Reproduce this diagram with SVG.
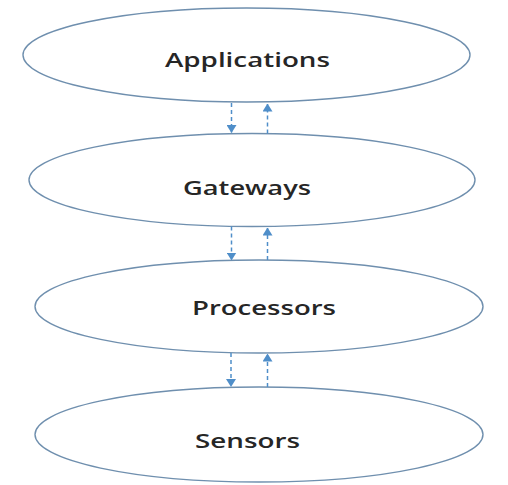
<svg xmlns="http://www.w3.org/2000/svg" width="508" height="485" viewBox="0 0 508 485">
  <style>
    .layer ellipse { fill: #ffffff; stroke: #6f8fae; stroke-width: 1.4; }
    .layer text { font-family: "Open Sans", "Liberation Sans", sans-serif; font-size: 19px; font-weight: 600; fill: #262626; text-anchor: middle; }
    .flow line { stroke: #4f8ec9; stroke-width: 1.5; stroke-dasharray: 4 3; }
  </style>
  <defs>
    <marker id="head" viewBox="0 0 8 10" refX="7.5" refY="5" markerWidth="8" markerHeight="10" markerUnits="userSpaceOnUse" orient="auto">
      <path d="M0,0 L8,5 L0,10 Z" fill="#4f8ec9"/>
    </marker>
  </defs>
  <rect width="508" height="485" fill="#ffffff"/>

  <g id="applications" class="layer">
    <ellipse cx="246.5" cy="55" rx="223.5" ry="47"/>
    <text x="247.5" y="67" textLength="165" lengthAdjust="spacingAndGlyphs">Applications</text>
  </g>
  <g id="gateways" class="layer">
    <ellipse cx="252" cy="180" rx="223" ry="46.5"/>
    <text x="247" y="194.5" textLength="128" lengthAdjust="spacingAndGlyphs">Gateways</text>
  </g>
  <g id="processors" class="layer">
    <ellipse cx="259" cy="306.5" rx="224" ry="46.5"/>
    <text x="264" y="315" textLength="144" lengthAdjust="spacingAndGlyphs">Processors</text>
  </g>
  <g id="sensors" class="layer">
    <ellipse cx="259" cy="434.5" rx="224" ry="47.5"/>
    <text x="247.5" y="448" textLength="105" lengthAdjust="spacingAndGlyphs">Sensors</text>
  </g>

  <g id="connectors" class="flow">
    <line x1="231.5" y1="103" x2="231.5" y2="132.5" marker-end="url(#head)"/>
    <line x1="267.5" y1="133.5" x2="267.5" y2="104" marker-end="url(#head)"/>
    <line x1="231.5" y1="226.5" x2="231.5" y2="260" marker-end="url(#head)"/>
    <line x1="267.5" y1="260" x2="267.5" y2="228" marker-end="url(#head)"/>
    <line x1="231" y1="353" x2="231" y2="386.5" marker-end="url(#head)"/>
    <line x1="267.5" y1="387" x2="267.5" y2="354" marker-end="url(#head)"/>
  </g>
</svg>
